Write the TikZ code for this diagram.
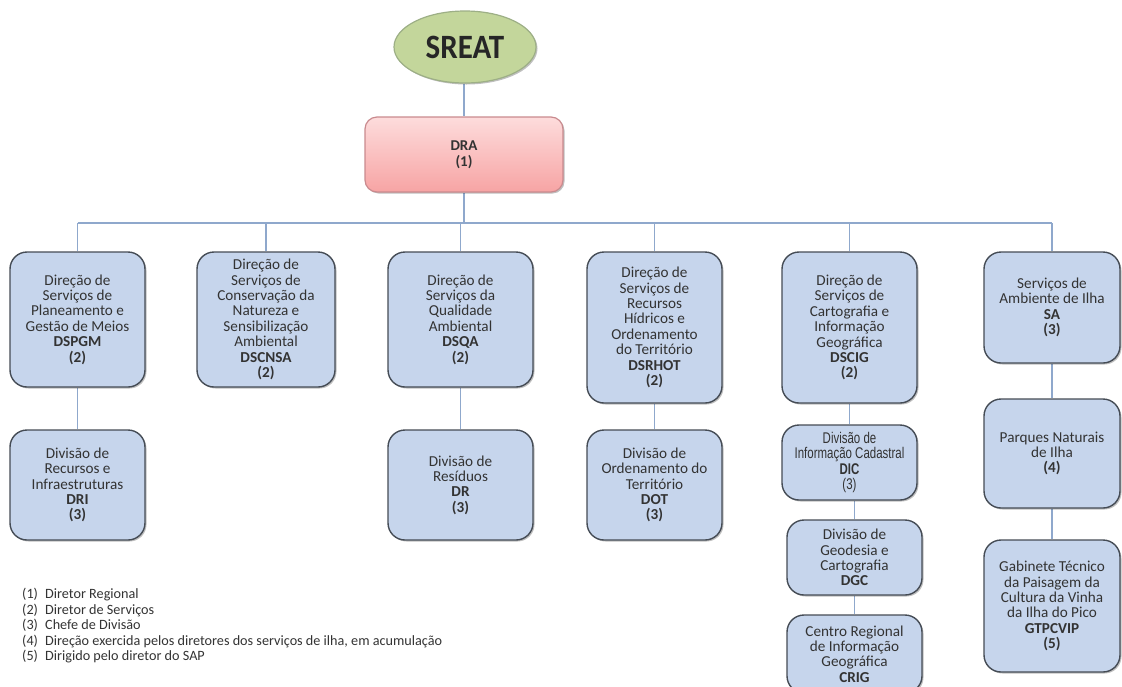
\documentclass[tikz,border=0pt]{standalone}
\usepackage{fontspec}
\usepackage{graphicx}
\setmainfont{Carlito}
\newfontfamily\narrowfont[FakeStretch=0.74]{Liberation Sans}
\usetikzlibrary{shadows,shapes.geometric,backgrounds}
\definecolor{boxfill}{HTML}{C6D5EC}
\definecolor{boxdraw}{HTML}{454C55}
\definecolor{linecol}{HTML}{8FA8CC}
\definecolor{txt}{HTML}{333333}
\definecolor{elfill}{HTML}{C3D69B}
\definecolor{eldraw}{HTML}{9DAF86}
\definecolor{pinktop}{HTML}{FDDCDC}
\definecolor{pinkbot}{HTML}{F7A4A4}
\definecolor{pinkdraw}{HTML}{C98A8E}
\newcommand\obox[6]{\node[bx,minimum width={#4-#2},minimum height={#5-#3}] (#1) at ({(#2+#4)/2},{(#3+#5)/2}) {#6};}
\newcommand\nf{\narrowfont\fontsize{15.5}{16.6}\selectfont}
\begin{document}
\begin{tikzpicture}[x=1pt,y=-1pt,
  bx/.style={draw=boxdraw, line width=1.4pt, fill=boxfill, rounded corners=17pt,
    inner sep=0pt, align=center, text=txt, font=\fontsize{15.2}{15.4}\selectfont,
    drop shadow={shadow xshift=1.5pt, shadow yshift=-1.5pt, opacity=0.25, fill=black}},
  conn/.style={draw=linecol, line width=1.4pt}]
\useasboundingbox (0,0) rectangle (1122,686);
\clip (0,0) rectangle (1122,686);

\node[ellipse, draw=eldraw, line width=1.2pt, fill=elfill, minimum width=142, minimum height=72,
  inner sep=0pt, text=black!85, font=\fontsize{31}{31}\selectfont\bfseries,
  drop shadow={shadow xshift=1.5pt, shadow yshift=-1.5pt, opacity=0.25, fill=black}]
  (SREAT) at (465,47) {\scalebox{1}[1.1]{SREAT}};

\node[draw=pinkdraw, line width=1.2pt, rounded corners=12pt, top color=pinktop, bottom color=pinkbot,
  minimum width=198, minimum height=75, inner sep=0pt, align=center, text=txt,
  font=\fontsize{15}{16}\selectfont\bfseries,
  drop shadow={shadow xshift=1.5pt, shadow yshift=-1.5pt, opacity=0.25, fill=black}]
  (DRA) at (464,154.5) {DRA\\(1)};

\obox{DSPGM}{10}{252}{145}{387}{Direção de\\Serviços de\\Planeamento e\\Gestão de Meios\\\textbf{DSPGM}\\\textbf{(2)}}
\obox{DSCNSA}{197}{252}{335}{387}{Direção de\\Serviços de\\Conservação da\\Natureza e\\Sensibilização\\Ambiental\\\textbf{DSCNSA}\\\textbf{(2)}}
\obox{DSQA}{388}{252}{533}{387}{Direção de\\Serviços da\\Qualidade\\Ambiental\\\textbf{DSQA}\\\textbf{(2)}}
\obox{DSRHOT}{587}{252}{722}{403}{Direção de\\Serviços de\\Recursos\\Hídricos e\\Ordenamento\\do Território\\\textbf{DSRHOT}\\\textbf{(2)}}
\obox{DSCIG}{782}{252}{917}{403}{Direção de\\Serviços de\\Cartografia e\\Informação\\Geográfica\\\textbf{DSCIG}\\\textbf{(2)}}
\obox{SA}{984}{252}{1120}{363}{Serviços de\\Ambiente de Ilha\\\textbf{SA}\\\textbf{(3)}}

\obox{DRI}{10}{430}{145}{540}{Divisão de\\Recursos e\\Infraestruturas\\\textbf{DRI}\\\textbf{(3)}}
\obox{DR}{388}{430}{533}{540}{Divisão de\\Resíduos\\\textbf{DR}\\\textbf{(3)}}
\obox{DOT}{587}{430}{722}{540}{Divisão de\\Ordenamento do\\Território\\\textbf{DOT}\\\textbf{(3)}}
\obox{DIC}{782}{425}{917}{500}{\nf Divisão de\\\nf Informação Cadastral\\\nf\textbf{DIC}\\\nf (3)}
\obox{DGC}{787}{520}{922}{595}{Divisão de\\Geodesia e\\Cartografia\\\textbf{DGC}}
\obox{CRIG}{787}{615}{922}{693}{Centro Regional\\de Informação\\Geográfica\\\textbf{CRIG}}
\obox{PNI}{984}{399}{1120}{508}{Parques Naturais\\de Ilha\\\textbf{(4)}}
\obox{GTPCVIP}{984}{540}{1120}{672}{Gabinete Técnico\\da Paisagem da\\Cultura da Vinha\\da Ilha do Pico\\\textbf{GTPCVIP}\\\textbf{(5)}}

\node[anchor=north west, inner sep=0pt, align=left, text=txt, font=\fontsize{14.2}{15.5}\selectfont] (legend) at (22,588)
 {\makebox[23pt][l]{(1)}Diretor Regional\\
  \makebox[23pt][l]{(2)}Diretor de Serviços\\
  \makebox[23pt][l]{(3)}Chefe de Divisão\\
  \makebox[23pt][l]{(4)}Direção exercida pelos diretores dos serviços de ilha, em acumulação\\
  \makebox[23pt][l]{(5)}Dirigido pelo diretor do SAP};

\begin{scope}[on background layer]
\coordinate (busL) at (77.5,223);
\coordinate (busR) at (1052,223);
\draw[conn] (DRA.north |- SREAT.south) -- (DRA.north);
\draw[conn] (DRA.south) -- (DRA.south |- busL);
\draw[conn] (busL) -- (busR);
\foreach \n in {DSPGM,DSCNSA,DSQA,DSRHOT,DSCIG,SA}
  \draw[conn] (\n.north) -- (\n.north |- busL);
\draw[conn] (DSPGM.south) -- (DRI.north);
\draw[conn] (DSQA.south) -- (DR.north);
\draw[conn] (DSRHOT.south) -- (DOT.north);
\draw[conn] (DSCIG.south) -- (DIC.north);
\draw[conn] (DGC.north) -- (DGC.north |- DIC.south);
\draw[conn] (DGC.south) -- (CRIG.north);
\draw[conn] (SA.south) -- (PNI.north);
\draw[conn] (PNI.south) -- (GTPCVIP.north);
\end{scope}
\end{tikzpicture}
\end{document}
